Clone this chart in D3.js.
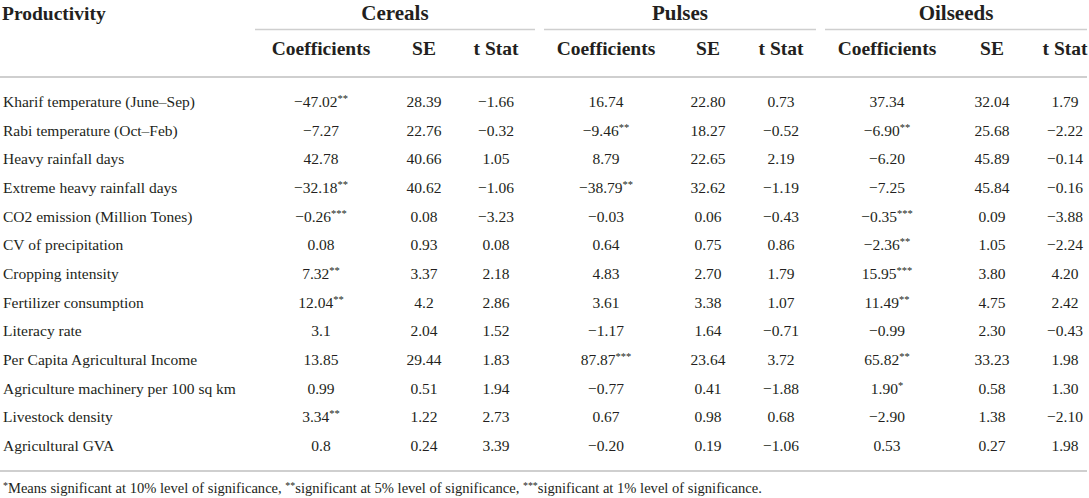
<!DOCTYPE html>
<html><head><meta charset="utf-8">
<script src="https://cdn.jsdelivr.net/npm/d3@7"></script>
<style>
html,body{margin:0;padding:0;background:#fff;}
svg text{font-family:"Liberation Serif","Times New Roman",serif;fill:#231f20;}
</style></head>
<body><svg id="t" width="1089" height="498"></svg>
<script>
const rowLabels = [
  "Kharif temperature (June\u2013Sep)",
  "Rabi temperature (Oct\u2013Feb)",
  "Heavy rainfall days",
  "Extreme heavy rainfall days",
  "CO2 emission (Million Tones)",
  "CV of precipitation",
  "Cropping intensity",
  "Fertilizer consumption",
  "Literacy rate",
  "Per Capita Agricultural Income",
  "Agriculture machinery per 100 sq km",
  "Livestock density",
  "Agricultural GVA"
];
const groups = ["Cereals", "Pulses", "Oilseeds"];
const subHeaders = ["Coefficients", "SE", "t Stat"];
const cerealsCoef = ["\u221247.02**","\u22127.27","42.78","\u221232.18**","\u22120.26***","0.08","7.32**","12.04**","3.1","13.85","0.99","3.34**","0.8"];
const cerealsSE   = ["28.39","22.76","40.66","40.62","0.08","0.93","3.37","4.2","2.04","29.44","0.51","1.22","0.24"];
const cerealsT    = ["\u22121.66","\u22120.32","1.05","\u22121.06","\u22123.23","0.08","2.18","2.86","1.52","1.83","1.94","2.73","3.39"];
const pulsesCoef  = ["16.74","\u22129.46**","8.79","\u221238.79**","\u22120.03","0.64","4.83","3.61","\u22121.17","87.87***","\u22120.77","0.67","\u22120.20"];
const pulsesSE    = ["22.80","18.27","22.65","32.62","0.06","0.75","2.70","3.38","1.64","23.64","0.41","0.98","0.19"];
const pulsesT     = ["0.73","\u22120.52","2.19","\u22121.19","\u22120.43","0.86","1.79","1.07","\u22120.71","3.72","\u22121.88","0.68","\u22121.06"];
const oilCoef     = ["37.34","\u22126.90**","\u22126.20","\u22127.25","\u22120.35***","\u22122.36**","15.95***","11.49**","\u22120.99","65.82**","1.90*","\u22122.90","0.53"];
const oilSE       = ["32.04","25.68","45.89","45.84","0.09","1.05","3.80","4.75","2.30","33.23","0.58","1.38","0.27"];
const oilT        = ["1.79","\u22122.22","\u22120.14","\u22120.16","\u22123.88","\u22122.24","4.20","2.42","\u22120.43","1.98","1.30","\u22122.10","1.98"];
const stubHeader = "Productivity";
const footnote = "*Means significant at 10% level of significance, **significant at 5% level of significance, ***significant at 1% level of significance.";

const columns = [cerealsCoef, cerealsSE, cerealsT, pulsesCoef, pulsesSE, pulsesT, oilCoef, oilSE, oilT];

const svg = d3.select("#t");

// scales
const colX = d3.scaleOrdinal().domain(d3.range(9)).range([321, 424, 496, 606, 708, 781, 887, 992, 1065]);
const groupSpan = d3.scaleOrdinal().domain(groups).range([[255,535],[544,816],[825,1087]]);
const rowY = d3.scalePoint().domain(d3.range(rowLabels.length)).range([107, 451]);

const lineColor = "#cfcfcf";

// header
svg.append("text").attr("x", 2).attr("y", 20).attr("font-size", 19.5).attr("font-weight", "bold").text(stubHeader);
groups.forEach(g => {
  const [a, b] = groupSpan(g);
  svg.append("text").attr("x", (a + b) / 2).attr("y", 20).attr("text-anchor", "middle")
    .attr("font-size", 21).attr("font-weight", "bold").text(g);
  svg.append("line").attr("x1", a).attr("x2", b).attr("y1", 29.5).attr("y2", 29.5)
    .attr("stroke", lineColor).attr("stroke-width", 1.6);
});
d3.range(9).forEach(i => {
  svg.append("text").attr("x", colX(i)).attr("y", 55).attr("text-anchor", "middle")
    .attr("font-size", 19.5).attr("font-weight", "bold").text(subHeaders[i % 3]);
});
svg.append("line").attr("x1", 0).attr("x2", 1087).attr("y1", 77).attr("y2", 77)
  .attr("stroke", lineColor).attr("stroke-width", 1.8);

// body
const fs = 15.5;
svg.selectAll("text.lab").data(rowLabels).join("text").attr("class", "lab")
  .attr("x", 3).attr("y", (d, i) => rowY(i)).attr("font-size", fs).text(d => d);

columns.forEach((col, ci) => {
  col.forEach((v, ri) => {
    const m = v.match(/^([^*]*)(\**)$/);
    const num = m[1], stars = m[2];
    const t = svg.append("text").attr("x", colX(ci)).attr("y", rowY(ri))
      .attr("text-anchor", "middle").attr("font-size", fs);
    t.append("tspan").text(num);
    if (stars) t.append("tspan").attr("font-size", 10.5).attr("dy", -5).text(stars);
  });
});

svg.append("line").attr("x1", 0).attr("x2", 1087).attr("y1", 471).attr("y2", 471)
  .attr("stroke", lineColor).attr("stroke-width", 1.8);

// footnote
const fnSize = 14.4;
const fn = svg.append("text").attr("x", 3).attr("y", 493).attr("font-size", fnSize);
const parts = footnote.split(/(\*+)/).filter(s => s.length);
let raised = false;
parts.forEach(p => {
  if (/^\*+$/.test(p)) {
    fn.append("tspan").attr("font-size", fnSize * 0.68).attr("dy", raised ? 0 : -4).text(p);
    raised = true;
  } else {
    fn.append("tspan").attr("dy", raised ? 4 : 0).text(p);
    raised = false;
  }
});
// fit footnote width to the reference line length
const target = 759;
const w = fn.node().getComputedTextLength();
if (w > 0) {
  const k = target / w;
  fn.attr("font-size", fnSize * k);
  fn.selectAll("tspan").filter(function(){ return this.getAttribute("font-size"); })
    .attr("font-size", fnSize * 0.68 * k);
}
</script></body></html>
